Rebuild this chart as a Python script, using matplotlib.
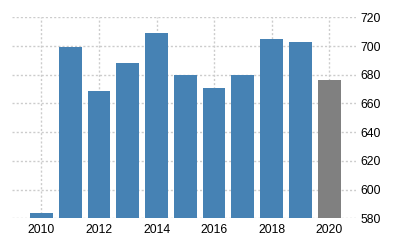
import matplotlib
matplotlib.use("Agg")
import matplotlib.pyplot as plt

years = [2010, 2011, 2012, 2013, 2014, 2015, 2016, 2017, 2018, 2019, 2020]
values = [583.7, 699.5, 668.5, 688.5, 709.0, 680.0, 671.0, 680.0, 704.8, 702.8, 676.5]
colors = ["#4682b4"] * 10 + ["#808080"]
xticks = [2010, 2012, 2014, 2016, 2018, 2020]
yticks = [580, 600, 620, 640, 660, 680, 700, 720]

plt.rcParams['font.family'] = ['Liberation Sans', 'DejaVu Sans']
fig = plt.figure(figsize=(4, 2.5), dpi=100)
ax = fig.add_axes([0.03, 0.1268, 0.86, 0.804])
ax.bar(years, values, width=0.79, color=colors, zorder=2)
ax.set_xlim(2008.98, 2020.93)
ax.set_ylim(580, 720)
ax.set_xticks(xticks)
ax.set_yticks(yticks)
ax.yaxis.tick_right()
ax.tick_params(axis='both', length=0, labelsize=8.8, colors='#000000')
ax.tick_params(axis='y', pad=3)
ax.tick_params(axis='x', pad=4)
for s in ax.spines.values():
    s.set_visible(False)
ax.grid(True, color='#cccccc', linestyle=(0, (1.5, 1.5)), linewidth=1, zorder=0)
ax.set_axisbelow(True)
fig.savefig("out.png", dpi=100)
